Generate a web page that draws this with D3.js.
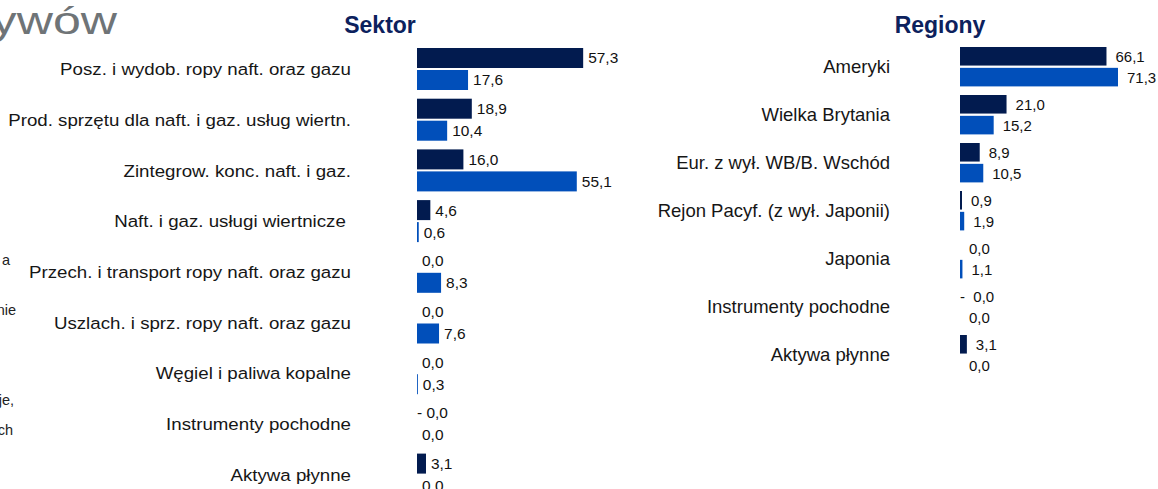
<!DOCTYPE html>
<html>
<head>
<meta charset="utf-8">
<script src="https://cdn.jsdelivr.net/npm/d3@7"></script>
<style>
    body { margin: 0; background: #fff; }
    svg { display: block; font-family: "Liberation Sans", Arial, sans-serif; }
</style>
</head>
<body>
<div id="chart"></div>
<script>
// data
const sectorNames = [
    "Posz. i wydob. ropy naft. oraz gazu",
    "Prod. sprzętu dla naft. i gaz. usług wiertn.",
    "Zintegrow. konc. naft. i gaz.",
    "Naft. i gaz. usługi wiertnicze\u00a0",
    "Przech. i transport ropy naft. oraz gazu",
    "Uszlach. i sprz. ropy naft. oraz gazu",
    "Węgiel i paliwa kopalne",
    "Instrumenty pochodne",
    "Aktywa płynne"
]
const sectorA = [57.3, 18.9, 16.0, 4.6, 0.0, 0.0, 0.0, -0.0, 3.1]
const sectorB = [17.6, 10.4, 55.1, 0.6, 8.3, 7.6, 0.3, 0.0, 0.0]

const regionNames = [
    "Ameryki",
    "Wielka Brytania",
    "Eur. z wył. WB/B. Wschód",
    "Rejon Pacyf. (z wył. Japonii)",
    "Japonia",
    "Instrumenty pochodne",
    "Aktywa płynne"
]
const regionA = [66.1, 21.0, 8.9, 0.9, 0.0, -0.0, 3.1]
const regionB = [71.3, 15.2, 10.5, 1.9, 1.1, 0.0, 0.0]

// bits of the neighbouring text column, cut off at the left edge
const sideBits = [
    {text: "a", y: 265, x: 10},
    {text: "nie", y: 315, x: 16},
    {text: "je,", y: 405, x: 14},
    {text: "ch", y: 435, x: 13}
]

const COLOR_A = "#021b4f"
const COLOR_B = "#014fba"
const TITLE_COLOR = "#0c215d"

const W = 1158, H = 489

const svg = d3.select("#chart")
    .append("svg")
    .attr("width", W)
    .attr("height", H)

/* PAGE TITLE (cut off) */
svg.append("text")
    .attr("transform", "translate(117, 34) scale(1.32, 1)")
    .attr("text-anchor", "end")
    .attr("fill", "#6f7477")
    .style("font-size", "38px")
    .text("aktywów")

svg.selectAll(".side-bit")
    .data(sideBits)
    .enter()
    .append("text")
    .attr("class", "side-bit")
    .attr("x", d => d.x)
    .attr("y", d => d.y)
    .attr("text-anchor", "end")
    .attr("fill", "#222")
    .style("font-size", "14.5px")
    .text(d => d.text)

function fmt(v, negGap) {
    const s = d3.format(".1f")(Math.abs(v)).replace(".", ",")
    if (v < 0 || Object.is(v, -0)) return "-" + negGap + s
    return s
}

function barPanel(opt) {
    const rows = opt.names.map((n, i) => ({name: n, vals: [opt.a[i], opt.b[i]]}))

    const x = d3.scaleLinear()
        .domain(opt.domain)
        .range(opt.xRange)

    const y = d3.scaleBand()
        .domain(opt.names)
        .range(opt.yRange)
        .paddingInner(opt.groupPad)
        .paddingOuter(0)

    const y1 = d3.scaleBand()
        .domain([0, 1])
        .range([0, y.bandwidth()])
        .paddingInner(opt.barPad)

    const g = svg.append("g")

    // title
    g.append("text")
        .attr("x", opt.titleX)
        .attr("y", 33)
        .attr("text-anchor", "middle")
        .attr("fill", TITLE_COLOR)
        .style("font-size", "23px")
        .style("font-weight", "bold")
        .text(opt.title)

    // category labels
    g.selectAll(".cat")
        .data(rows)
        .enter()
        .append("text")
        .attr("class", "cat")
        .attr("transform", d => `translate(${opt.labelX}, ${y(d.name) + y.bandwidth() / 2}) scale(${opt.labelStretch}, 1)`)
        .attr("dy", "0.36em")
        .attr("text-anchor", "end")
        .attr("fill", "#161616")
        .style("font-size", opt.labelSize)
        .text(d => d.name)

    const grp = g.selectAll(".grp")
        .data(rows)
        .enter()
        .append("g")
        .attr("transform", d => `translate(0, ${y(d.name)})`)

    const items = d => d.vals.map((v, k) => ({v, k}))

    grp.selectAll("rect")
        .data(items)
        .enter()
        .append("rect")
        .attr("x", x(0))
        .attr("y", d => y1(d.k))
        .attr("width", d => Math.max(0, x(d.v) - x(0)))
        .attr("height", y1.bandwidth())
        .attr("fill", d => d.k === 0 ? COLOR_A : COLOR_B)

    grp.selectAll(".val")
        .data(items)
        .enter()
        .append("text")
        .attr("class", "val")
        .attr("transform", d => {
            const neg = d.v < 0 || Object.is(d.v, -0)
            const tx = neg ? x(0) : Math.max(x(0), x(d.v)) + opt.valGap
            return `translate(${tx}, ${y1(d.k) + y1.bandwidth() / 2}) scale(${opt.valStretch}, 1)`
        })
        .attr("dy", "0.36em")
        .attr("fill", "#111")
        .style("font-size", "15px")
        .text(d => fmt(d.v, opt.negGap))
}

barPanel({
    title: "Sektor",
    titleX: 380,
    names: sectorNames,
    a: sectorA,
    b: sectorB,
    domain: [0, 60],
    xRange: [417, 591],
    yRange: [48, 48 + 9 * 50.7 - 8.7],
    groupPad: 8.7 / 50.7,
    barPad: 2 / 22,
    labelX: 351,
    labelSize: "17px",
    labelStretch: 1.1,
    valGap: 5,
    valStretch: 1.03,
    negGap: "\u00a0"
})

barPanel({
    title: "Regiony",
    titleX: 940,
    names: regionNames,
    a: regionA,
    b: regionB,
    domain: [0, 80],
    xRange: [960, 960 + 80 * 2.216],
    yRange: [47, 47 + 7 * 48 - 8.6],
    groupPad: 8.6 / 48,
    barPad: 2.3 / 21,
    labelX: 890,
    labelSize: "18.5px",
    labelStretch: 1,
    valGap: 9,
    valStretch: 1,
    negGap: "\u00a0\u00a0"
})
</script>
</body>
</html>
